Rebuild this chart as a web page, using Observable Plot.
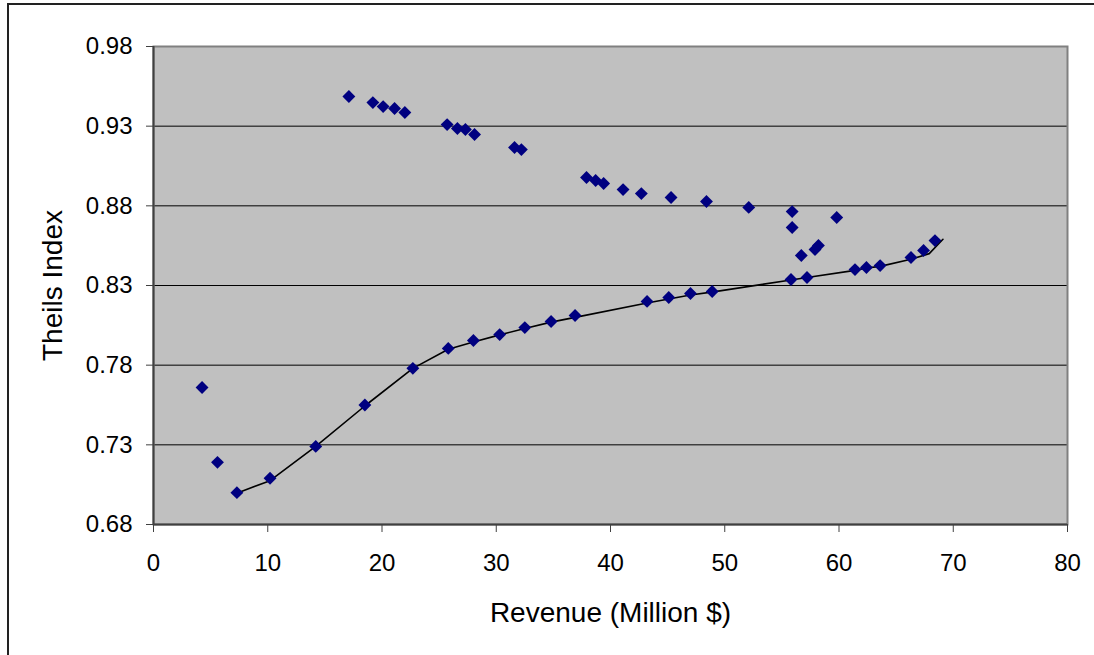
<!DOCTYPE html>
<html>
<head>
<meta charset="utf-8">
<script src="https://cdn.jsdelivr.net/npm/d3@7"></script>
<script src="https://cdn.jsdelivr.net/npm/@observablehq/plot@0.6"></script>
<style>
  html, body { margin: 0; padding: 0; background: #fff; overflow: hidden; }
  #wrap { position: relative; width: 1094px; height: 655px; }
  #outer { position: absolute; left: 7px; top: 3px; width: 1200px; height: 800px;
           border-top: 2px solid #222; border-left: 2px solid #222; pointer-events: none; }
</style>
</head>
<body>
<div id="wrap"><div id="outer"></div></div>
<script>
// Upper scatter (markers only)
const upperX = [17.1, 19.2, 20.1, 21.1, 22.0, 25.7, 26.6, 27.3, 28.1, 31.6, 32.2,
                37.9, 38.7, 39.4, 41.1, 42.7, 45.3, 48.4, 52.1, 55.9, 55.9, 59.8, 56.7, 57.9, 58.2];
const upperY = [0.9486, 0.9448, 0.9423, 0.9411, 0.9386, 0.9310, 0.9285, 0.9279, 0.9248, 0.9166, 0.9153,
                0.8978, 0.8959, 0.8940, 0.8902, 0.8877, 0.8852, 0.8827, 0.8790, 0.8764, 0.8664, 0.8727, 0.8488, 0.8526, 0.8551];

// Lower scatter (markers)
const lowerX = [4.25, 5.6, 7.3, 10.2, 14.2, 18.5, 22.7, 25.8, 28.0, 30.3, 32.5, 34.8, 36.9,
                43.2, 45.1, 47.0, 48.9, 55.8, 57.2, 61.4, 62.4, 63.6, 66.3, 67.4, 68.4];
const lowerY = [0.766, 0.719, 0.700, 0.709, 0.729, 0.755, 0.778, 0.7905, 0.7955, 0.7992, 0.8036, 0.8074, 0.8112,
                0.8200, 0.8225, 0.8250, 0.8262, 0.8338, 0.8350, 0.8400, 0.8413, 0.8425, 0.8476, 0.8520, 0.8582];

// Fitted line
const fitX = [7.4, 10.2, 14.2, 18.6, 22.7, 25.8, 28.0, 30.3, 32.5, 34.8, 36.9, 43.2, 45.1, 47.0, 49.0,
              55.8, 57.2, 61.4, 62.4, 63.6, 66.3, 67.9, 69.1];
const fitY = [0.700, 0.7075, 0.729, 0.755, 0.778, 0.790, 0.7945, 0.799, 0.803, 0.807, 0.810, 0.819, 0.8215, 0.824, 0.826,
              0.8335, 0.835, 0.8395, 0.841, 0.842, 0.8465, 0.850, 0.859];

const xTicks = [0, 10, 20, 30, 40, 50, 60, 70, 80];
const yTicks = [0.68, 0.73, 0.78, 0.83, 0.88, 0.93, 0.98];
const gridTicks = [0.73, 0.78, 0.83, 0.88, 0.93];
const xTitle = "Revenue (Million $)";
const yTitle = "Theils Index";

const upper = upperX.map((x, i) => ({x, y: upperY[i]}));
const lower = lowerX.map((x, i) => ({x, y: lowerY[i]}));
const fit = fitX.map((x, i) => ({x, y: fitY[i]}));

const font = "'Liberation Sans', Arial, sans-serif";
const navy = "#000080";

const chart = Plot.plot({
  width: 1094,
  height: 655,
  marginLeft: 153,
  marginRight: 27,
  marginTop: 46,
  marginBottom: 131,
  style: {fontFamily: font, background: "transparent", color: "#000", overflow: "visible"},
  x: {domain: [0, 80]},
  y: {domain: [0.68, 0.98]},
  marks: [
    Plot.frame({fill: "#c0c0c0"}),
    Plot.ruleY(gridTicks, {stroke: "#000", strokeWidth: 1}),
    Plot.frame({stroke: "#808080", strokeWidth: 2}),
    Plot.ruleX([0], {stroke: "#404040", strokeWidth: 2}),
    Plot.ruleY([0.68], {stroke: "#404040", strokeWidth: 2}),
    Plot.axisY({ticks: yTicks, tickFormat: ".2f", tickSize: 7, tickPadding: 14, fontSize: 24,
                stroke: "#404040", label: null}),
    Plot.axisX({ticks: xTicks, tickFormat: "d", tickSize: 8, tickPadding: 21, fontSize: 24,
                stroke: "#404040", label: null}),
    Plot.text([yTitle], {text: d => d, frameAnchor: "left", dx: -100, rotate: -90, fontSize: 28,
                         textAnchor: "middle", lineAnchor: "middle"}),
    Plot.text([xTitle], {text: d => d, frameAnchor: "bottom", dy: 89, fontSize: 28,
                         textAnchor: "middle", lineAnchor: "middle"}),
    Plot.line(fit, {x: "x", y: "y", stroke: "#000", strokeWidth: 1.6}),
    Plot.dot(upper, {x: "x", y: "y", symbol: "diamond2", r: 5.8, fill: navy, stroke: null}),
    Plot.dot(lower, {x: "x", y: "y", symbol: "diamond2", r: 5.8, fill: navy, stroke: null})
  ]
});
chart.style.position = "absolute";
chart.style.left = "0px";
chart.style.top = "0px";
document.getElementById("wrap").prepend(chart);
</script>
</body>
</html>
